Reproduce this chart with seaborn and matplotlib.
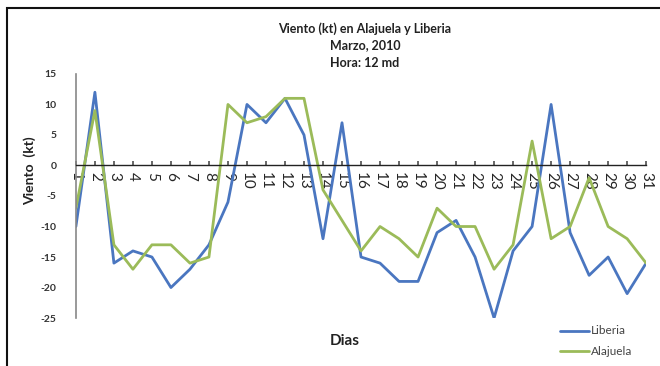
import matplotlib
matplotlib.use("Agg")
import matplotlib.pyplot as plt
import seaborn as sns
import pandas as pd
from matplotlib.patches import Rectangle

# Daily wind at 12 md, March 2010
dias = list(range(1, 32))
liberia = [-10, 12, -16, -14, -15, -20, -17, -13, -6, 10, 7, 11, 5, -12, 7,
           -15, -16, -19, -19, -11, -9, -15, -25, -14, -10, 10, -11, -18, -15, -21, -16]
alajuela = [-7, 9, -13, -17, -13, -13, -16, -15, 10, 7, 8, 11, 11, -4, -9,
            -14, -10, -12, -15, -7, -10, -10, -17, -13, 4, -12, -10, -2, -10, -12, -16]
y_ticks = [15, 10, 5, 0, -5, -10, -15, -20, -25]

df = pd.DataFrame({
    "Dia": dias * 2,
    "Viento": liberia + alajuela,
    "Estacion": ["Liberia"] * len(dias) + ["Alajuela"] * len(dias),
})

sns.set_theme(style="white")
plt.rcParams["font.family"] = ["Lato", "DejaVu Sans"]

fig = plt.figure(figsize=(6.6, 3.66), dpi=100)
ax = fig.add_axes([0.115, 0.131, 0.864, 0.667])

palette = {"Liberia": "#4A76C0", "Alajuela": "#9BBB59"}
sns.lineplot(data=df, x="Dia", y="Viento", hue="Estacion", palette=palette,
             linewidth=2.0, ax=ax, legend=False)

ax.set_xlim(1, 31)
ax.set_ylim(-25, 15)
ax.set_yticks(y_ticks)
ax.set_yticklabels([str(v) for v in y_ticks], fontsize=7.5, fontweight="bold",
                   color="#333333")
ax.set_xticks(dias)
ax.set_xticklabels([str(d) for d in dias], fontsize=6, color="#333333")

for s in ["top", "right"]:
    ax.spines[s].set_visible(False)
ax.spines["bottom"].set_position(("data", 0))
ax.spines["bottom"].set_color("#222222")
ax.spines["bottom"].set_linewidth(1.0)
ax.spines["left"].set_color("#888888")
ax.spines["left"].set_linewidth(1.2)

ax.tick_params(axis="x", direction="in", length=3, pad=5, color="#555555",
               bottom=True, labelrotation=-90)
ax.tick_params(axis="y", length=0, pad=14)
for lbl in ax.get_xticklabels():
    lbl.set_rotation(-90)
    lbl.set_va("top")
    lbl.set_ha("center")

ax.set_xlabel("")
ax.set_ylabel("")
fig.text(0.045, 0.535, "Viento  (kt)", rotation=90, ha="center", va="center",
         fontsize=10, fontweight="bold", color="#222222")
fig.text(0.523, 0.068, "Dias", ha="center", va="center", fontsize=11,
         fontweight="bold", color="#222222")

fig.text(0.553, 0.923, "Viento (kt) en Alajuela y Liberia", ha="center",
         va="center", fontsize=9, fontweight="bold", color="#222222")
fig.text(0.553, 0.877, "Marzo, 2010", ha="center", va="center", fontsize=9,
         fontweight="bold", color="#222222")
fig.text(0.553, 0.828, "Hora: 12 md", ha="center", va="center", fontsize=9,
         fontweight="bold", color="#222222")

# legend in the lower right corner
for i, (name, col) in enumerate(palette.items()):
    y = 0.096 - i * 0.056
    fig.add_artist(plt.Line2D([0.848, 0.893], [y, y], color=col, linewidth=2.0,
                              transform=fig.transFigure))
    fig.text(0.896, y, name, ha="left", va="center", fontsize=8.5,
             color="#444444")

# outer frame
fig.add_artist(Rectangle((0.011, -0.1), 1.2, 1.078, transform=fig.transFigure,
                         fill=False, edgecolor="#111111", linewidth=1.5))

fig.savefig("out.png", dpi=100)
